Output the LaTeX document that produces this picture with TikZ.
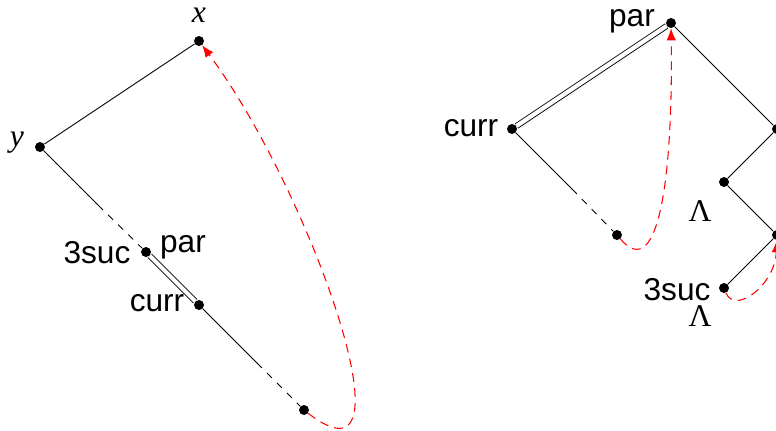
\documentclass[tikz,border=0pt]{standalone}
\usepackage{fontspec}
\setmainfont{Liberation Serif}
\setsansfont{Liberation Sans}
\usetikzlibrary{arrows.meta}
\definecolor{threadred}{RGB}{255,0,0}

\begin{document}
\begin{tikzpicture}[
  x=0.02cm, y=-0.02cm,
  dotnode/.style={circle, fill=black, minimum size=2mm, inner sep=0pt},
  lbl/.style={font=\fontsize{18}{20}\selectfont\sffamily, inner sep=0pt},
  mlbl/.style={font=\fontsize{18}{20}\selectfont\rmfamily, inner sep=0pt},
  edge/.style={black, line width=0.5pt},
  pedge/.style={black, line width=0.5pt, dash pattern=on 4pt off 4pt},
  dbl/.style={black, double, line width=0.5pt, double distance=2.4pt},
  thread/.style={threadred, line width=0.6pt, dash pattern=on 5pt off 3.5pt,
                 -{Latex[length=2.4mm,width=1.9mm]}}
]
  \useasboundingbox (0,0) rectangle (776,430);

  % left tree
  \node[dotnode] (x) at (199,41) {};
  \node[dotnode] (y) at (40,147) {};
  \node[dotnode] (suc) at (146,252) {};
  \node[dotnode] (curr) at (199,305) {};
  \node[dotnode] (end) at (304,410) {};
  \coordinate (m1) at (98,205);
  \coordinate (m2) at (257,363);

  \node[mlbl] (xlab) at (199,15) {\textit{x}};
  \node[mlbl] (ylab) at (17,143) {\textit{y}};
  \node[lbl] (suclab) at (97,253) {3suc};
  \node[lbl] (parlab) at (183,247) {par};
  \node[lbl] (currlab) at (157,303) {curr};

  \draw[edge] (x) -- (y) -- (m1);
  \draw[pedge] (m1) -- (suc);
  \draw[dbl] (suc) -- (curr);
  \draw[edge] (curr) -- (m2);
  \draw[pedge] (m2) -- (end);
  \draw[thread] (end) .. controls (420,500) and (310,190) .. (x);

  % right tree
  \node[dotnode] (par2) at (671,23) {};
  \node[dotnode] (curr2) at (512,129) {};
  \node[dotnode] (end2) at (617,235) {};
  \node[dotnode] (n1) at (777,129) {};
  \node[dotnode] (n2) at (724,182) {};
  \node[dotnode] (n3) at (777,235) {};
  \node[dotnode] (suc2) at (724,288) {};
  \coordinate (m3) at (572,189);

  \node[lbl] (parlab2) at (632,21) {par};
  \node[lbl] (currlab2) at (471,128) {curr};
  \node[lbl] (suclab2) at (677,290) {3suc};
  \node[mlbl] (lam1) at (700,211) {Λ};
  \node[mlbl] (lam2) at (700,316) {Λ};

  \draw[dbl] (curr2) -- (par2);
  \draw[edge] (curr2) -- (m3);
  \draw[pedge] (m3) -- (end2);
  \foreach \a/\b in {par2/n1, n1/n2, n2/n3, n3/suc2} {
    \draw[edge] (\a) -- (\b);
  }
  \draw[thread] (end2) .. controls (660,285) and (673,170) .. (par2);
  \draw[thread] (suc2) .. controls (735,315) and (775,285) .. (n3);
\end{tikzpicture}
\end{document}
